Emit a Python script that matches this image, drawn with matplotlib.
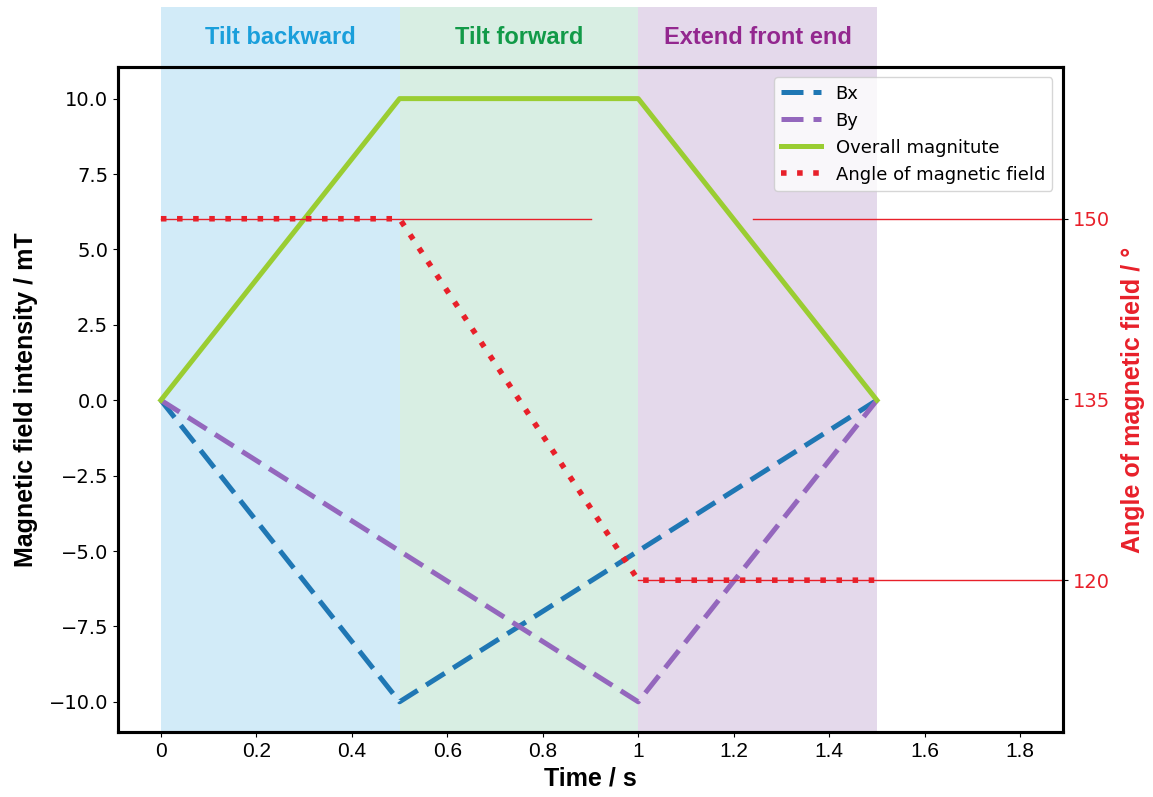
import matplotlib
matplotlib.use("Agg")
import matplotlib.pyplot as plt

# ---- data ----
t_bx = [0.0, 0.5, 1.5]
bx = [0.0, -10.0, 0.0]
t_by = [0.0, 1.0, 1.5]
by = [0.0, -10.0, 0.0]
t_mag = [0.0, 0.5, 1.0, 1.5]
mag = [0.0, 10.0, 10.0, 0.0]
t_ang = [0.0, 0.5, 1.0, 1.5]
ang = [150.0, 150.0, 120.0, 120.0]

phase_edges = [0.0, 0.5, 1.0, 1.5]
phase_names = ["Tilt backward", "Tilt forward", "Extend front end"]
phase_fill = ["#d2ebf8", "#d8eee3", "#e4d9eb"]
phase_text = ["#1a9fdb", "#119a48", "#93278f"]

# thin reference lines on the angle axis: (value, x_start, x_end)
ref_lines = [(150.0, 0.0, 0.9), (150.0, 1.24, 1.89), (120.0, 1.0, 1.89)]

xticks = [0, 0.2, 0.4, 0.6, 0.8, 1.0, 1.2, 1.4, 1.6, 1.8]
xticklabels = ["0", "0.2", "0.4", "0.6", "0.8", "1", "1.2", "1.4", "1.6", "1.8"]
yticks = [-10.0, -7.5, -5.0, -2.5, 0.0, 2.5, 5.0, 7.5, 10.0]
y2ticks = [120, 135, 150]

RED = "#e8202a"

fig = plt.figure(figsize=(11.53, 7.97), dpi=100)
ax = fig.add_axes([0.1023, 0.0816, 0.8197, 0.8344])
ax.set_xlim(-0.09, 1.89)
ax.set_ylim(-11.0, 11.05)

for i, name in enumerate(phase_names):
    ax.axvspan(phase_edges[i], phase_edges[i + 1], ymin=0, ymax=1.09,
               color=phase_fill[i], lw=0, zorder=0, clip_on=False)
    ax.text((phase_edges[i] + phase_edges[i + 1]) / 2, 1.045, name,
            transform=ax.get_xaxis_transform(), ha="center", va="center",
            fontsize=17, fontweight="bold", family="Liberation Sans",
            color=phase_text[i])

dash = (0, (4.4, 2.0))
l1, = ax.plot(t_bx, bx, color="#1f77b4", lw=3.6, ls=dash, label="Bx", zorder=3)
l2, = ax.plot(t_by, by, color="#9467bd", lw=3.6, ls=dash, label="By", zorder=3)
l3, = ax.plot(t_mag, mag, color="#9acd32", lw=3.6, label="Overall magnitute", zorder=3)

ax.set_xticks(xticks)
ax.set_xticklabels(xticklabels, family="Liberation Sans", fontsize=15)
ax.set_yticks(yticks)
ax.tick_params(axis="y", labelsize=14)
ax.set_xlabel("Time / s", fontsize=18, fontweight="bold", family="Liberation Sans", labelpad=4)
ax.set_ylabel("Magnetic field intensity / mT", fontsize=18, fontweight="bold",
              family="Liberation Sans", labelpad=8)
for s in ax.spines.values():
    s.set_linewidth(2.2)

ax2 = ax.twinx()
ax2.set_ylim(107.4, 162.6)
for v, x0, x1 in ref_lines:
    ax2.plot([x0, x1], [v, v], color=RED, lw=1.0, zorder=2)
l4, = ax2.plot(t_ang, ang, color=RED, lw=4.0, ls=(0, (1.0, 1.9)),
               label="Angle of magnetic field", zorder=3)
ax2.set_yticks(y2ticks)
ax2.tick_params(axis="y", labelsize=14, labelcolor=RED, color="black")
ax2.set_ylabel("Angle of magnetic field / °", fontsize=18, fontweight="bold",
               family="Liberation Sans", color=RED, labelpad=8)
for s in ax2.spines.values():
    s.set_linewidth(2.2)

ax2.legend(handles=[l1, l2, l3, l4], loc="upper right", fontsize=13,
           bbox_to_anchor=(0.998, 0.998), handlelength=2.2)

fig.savefig("out.png", dpi=100)
